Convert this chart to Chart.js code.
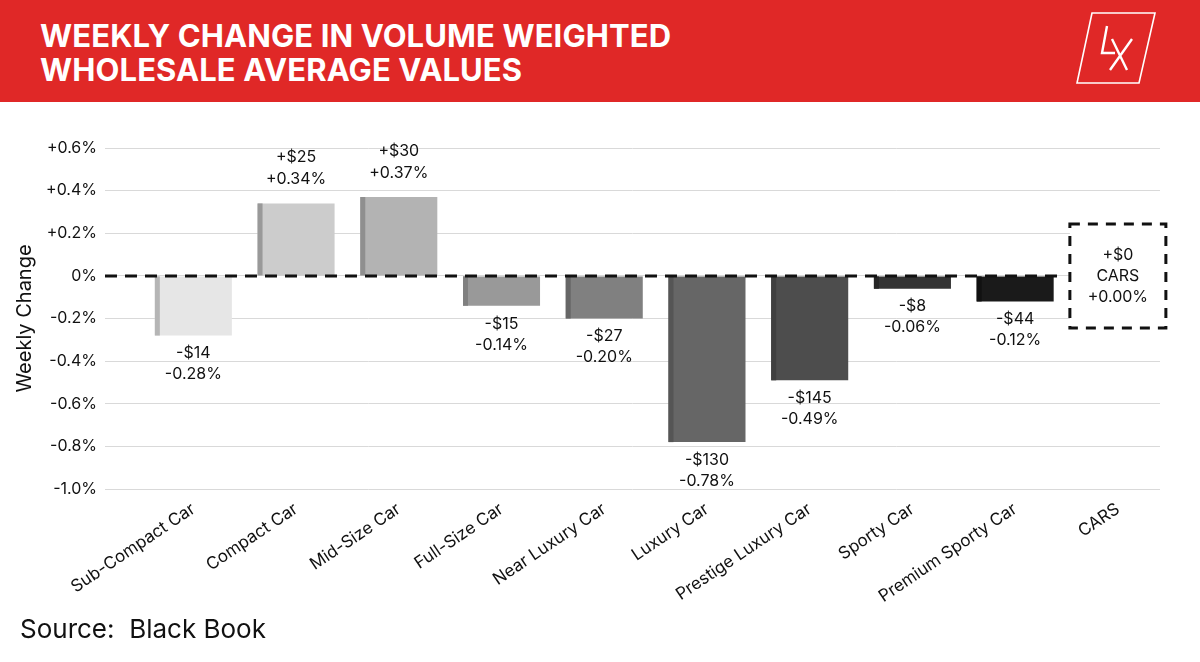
<!DOCTYPE html>
<html lang="en">
<head>
    <meta charset="UTF-8">
    <script src="https://cdn.jsdelivr.net/npm/chart.js@4.4.1/dist/chart.umd.min.js"></script>
    <title>Weekly Change in Volume Weighted Wholesale Average Values</title>
    <style>
        html, body { margin: 0; padding: 0; background: #fff; }
        body { width: 1200px; height: 662px; position: relative; overflow: hidden; font-family: Inter, "Noto Sans", sans-serif; }
        #header { position: absolute; left: 0; top: 0; width: 1200px; height: 102px; background: #e02827; }
        #title { position: absolute; left: 40px; top: 19px; color: #fff; font-weight: 700; font-size: 31px; line-height: 34px; letter-spacing: 0.1px; }
        #logo { position: absolute; left: 1060px; top: 0; }
        #wrap { position: absolute; left: 0; top: 102px; width: 1200px; height: 560px; }
        #source { position: absolute; left: 20px; top: 613px; font-size: 26px; color: #111; white-space: pre; }
    </style>
</head>
<body>
    <div id="header">
        <div id="title">WEEKLY CHANGE IN VOLUME WEIGHTED<br>WHOLESALE AVERAGE VALUES</div>
        <svg id="logo" width="120" height="100" viewBox="1060 0 120 100">
            <polygon points="1092,13 1155,13 1139,83 1077,83" fill="none" stroke="#fff" stroke-width="1.6"/>
            <path d="M1107,26 L1102,53 L1115,53" fill="none" stroke="#fff" stroke-width="2.4"/>
            <path d="M1112,39 L1127,70 M1132,39 L1110,70" fill="none" stroke="#fff" stroke-width="2.4"/>
        </svg>
    </div>
    <div id="wrap"><canvas id="chart"></canvas></div>
    <div id="source">Source:  Black Book</div>

    <script>
        const categories = ['Sub-Compact Car', 'Compact Car', 'Mid-Size Car', 'Full-Size Car', 'Near Luxury Car',
            'Luxury Car', 'Prestige Luxury Car', 'Sporty Car', 'Premium Sporty Car', 'CARS'];
        const pctChange = [-0.28, 0.34, 0.37, -0.14, -0.20, -0.78, -0.49, -0.06, -0.12, 0.00];
        const dollarChange = [-14, 25, 30, -15, -27, -130, -145, -8, -44, 0];
        const yTicks = [0.6, 0.4, 0.2, 0, -0.2, -0.4, -0.6, -0.8, -1.0];

        const barColors = ['#e6e6e6', '#cccccc', '#b3b3b3', '#999999', '#808080', '#666666', '#4d4d4d', '#333333', '#1a1a1a', 'rgba(0,0,0,0)'];
        const stripColors = ['#b5b5b5', '#999999', '#8f8f8f', '#808080', '#666666', '#555555', '#404040', '#262626', '#111111', 'rgba(0,0,0,0)'];
        const font = 'Inter, "Noto Sans", sans-serif';

        function fmtDollar(v) { return (v < 0 ? '-$' : '+$') + Math.abs(v); }
        function fmtPct(v) { return (v < 0 ? '-' : '+') + Math.abs(v).toFixed(2) + '%'; }

        const barExtras = {
            id: 'barExtras',
            afterDatasetsDraw(chart) {
                const ctx = chart.ctx;
                const bars = chart.getDatasetMeta(0).data;
                const area = chart.chartArea;
                const zeroY = chart.scales.y.getPixelForValue(0);
                const last = bars.length - 1;
                ctx.save();

                // darker strip on the left edge of each bar
                bars.forEach((bar, i) => {
                    if (i === last) return;
                    const left = bar.x - bar.width / 2;
                    ctx.fillStyle = stripColors[i];
                    ctx.fillRect(left, Math.min(bar.y, bar.base), 5, Math.abs(bar.base - bar.y));
                });

                // dashed zero line
                const boxW = 96, boxH = 104;
                ctx.strokeStyle = '#111';
                ctx.lineWidth = 3;
                ctx.setLineDash([12, 8]);
                ctx.beginPath();
                ctx.moveTo(area.left, zeroY);
                ctx.lineTo(bars[last].x - boxW / 2 - 12, zeroY);
                ctx.stroke();

                // value labels
                ctx.fillStyle = '#111';
                ctx.font = '16px ' + font;
                ctx.textAlign = 'center';
                ctx.textBaseline = 'middle';
                bars.forEach((bar, i) => {
                    if (i === last) return;
                    const v = pctChange[i];
                    if (v < 0) {
                        ctx.fillText(fmtDollar(dollarChange[i]), bar.x, bar.y + 18);
                        ctx.fillText(fmtPct(v), bar.x, bar.y + 39);
                    } else {
                        ctx.fillText(fmtDollar(dollarChange[i]), bar.x, bar.y - 46);
                        ctx.fillText(fmtPct(v), bar.x, bar.y - 24);
                    }
                });

                // total box for CARS
                const cx = bars[last].x;
                ctx.fillStyle = '#fff';
                ctx.fillRect(cx - boxW / 2, zeroY - boxH / 2, boxW, boxH);
                ctx.strokeStyle = '#111';
                ctx.lineWidth = 3;
                ctx.setLineDash([10, 8]);
                ctx.strokeRect(cx - boxW / 2, zeroY - boxH / 2, boxW, boxH);
                ctx.setLineDash([]);
                ctx.fillStyle = '#111';
                ctx.fillText(fmtDollar(dollarChange[last]), cx, zeroY - 21);
                ctx.fillText(categories[last], cx, zeroY);
                ctx.fillText(fmtPct(pctChange[last]), cx, zeroY + 21);
                ctx.restore();
            }
        };

        new Chart(document.getElementById('chart'), {
            type: 'bar',
            data: {
                datasets: [{
                    data: pctChange.map((v, i) => ({ x: i, y: v })),
                    backgroundColor: barColors,
                    borderWidth: 0,
                    barPercentage: 0.75,
                    categoryPercentage: 1
                }]
            },
            options: {
                responsive: true,
                maintainAspectRatio: false,
                animation: false,
                layout: { padding: { top: 46, right: 40, left: 0, bottom: 0 } },
                plugins: { legend: { display: false }, tooltip: { enabled: false } },
                scales: {
                    x: {
                        type: 'linear',
                        min: -0.86,
                        max: 9.41,
                        offset: false,
                        grid: { display: false, offset: false },
                        border: { display: false },
                        afterBuildTicks: axis => { axis.ticks = categories.map((c, i) => ({ value: i })); },
                        afterFit: axis => { axis.height = 173; },
                        ticks: {
                            autoSkip: false,
                            minRotation: 34,
                            maxRotation: 34,
                            padding: 2,
                            color: '#111',
                            font: { family: font, size: 17 },
                            callback: value => categories[value]
                        }
                    },
                    y: {
                        min: -1.0,
                        max: 0.6,
                        afterBuildTicks: axis => { axis.ticks = yTicks.map(v => ({ value: v })); },
                        afterFit: axis => { axis.width = 105; },
                        grid: { color: '#d9d9d9', lineWidth: 1, drawTicks: false },
                        border: { display: false },
                        ticks: {
                            padding: 8,
                            color: '#111',
                            font: { family: font, size: 16 },
                            callback: v => Math.abs(v) < 1e-9 ? '0%' : (v > 0 ? '+' : '-') + Math.abs(v).toFixed(1) + '%'
                        },
                        title: {
                            display: true,
                            text: 'Weekly Change',
                            color: '#111',
                            font: { family: font, size: 20 },
                            padding: { top: 13, bottom: 0 }
                        }
                    }
                }
            },
            plugins: [barExtras]
        });
    </script>
</body>
</html>
